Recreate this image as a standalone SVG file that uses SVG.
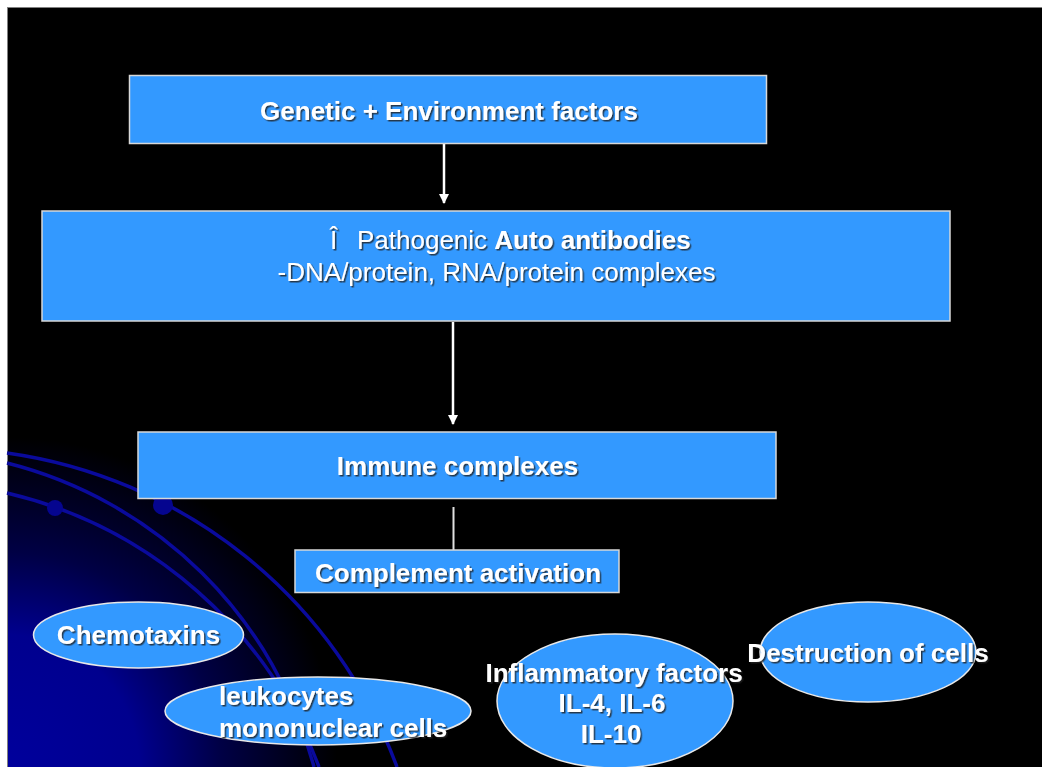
<svg xmlns="http://www.w3.org/2000/svg" width="1042" height="767" viewBox="0 0 1042 767">
  <defs>
    <radialGradient id="bgGlow" gradientUnits="userSpaceOnUse" cx="7" cy="767" r="330">
      <stop offset="0" stop-color="#00009c"/>
      <stop offset="0.4" stop-color="#00008e"/>
      <stop offset="0.65" stop-color="#000045"/>
      <stop offset="1" stop-color="#000000"/>
    </radialGradient>
    <filter id="shadow" x="-5%" y="-20%" width="110%" height="140%">
      <feDropShadow dx="1.5" dy="1.5" stdDeviation="0.6" flood-color="#222" flood-opacity="0.8"/>
    </filter>
    <marker id="arrow" viewBox="0 0 10 10" refX="9" refY="5" markerWidth="10" markerHeight="10" markerUnits="userSpaceOnUse" orient="auto">
      <path d="M0,0 L10,5 L0,10 Z" fill="#ffffff"/>
    </marker>
  </defs>
  <style>
    .box { fill: #3399ff; stroke: #d8d8d8; stroke-width: 1.5; }
    .oval { fill: #3399ff; stroke: #e8e8e8; stroke-width: 1.5; }
    .t { font-family: "Liberation Sans", Arial, sans-serif; font-size: 26px; fill: #ffffff; filter: url(#shadow); }
    .b { font-weight: bold; }
    .arc { fill: none; stroke: #0a0a9c; stroke-width: 3.5; }
    .dot { fill: #05058f; }
    .conn { stroke: #ffffff; stroke-width: 2.5; fill: none; }
  </style>

  <!-- background -->
  <rect x="0" y="0" width="1042" height="767" fill="#ffffff"/>
  <rect x="7.5" y="7.5" width="1040" height="765" fill="#000000" stroke="#808080" stroke-width="1"/>
  <rect x="8" y="8" width="1034" height="759" fill="url(#bgGlow)"/>

  <!-- decorative arcs -->
  <g id="decor">
    <path class="arc" d="M7,453 A488,488 0 0 1 397,767"/>
    <path class="arc" d="M7,463 A425,425 0 0 1 314,767"/>
    <path class="arc" d="M7,493 A442,442 0 0 1 319,767"/>
    <circle class="dot" cx="55" cy="508" r="8"/>
    <circle class="dot" cx="163" cy="505" r="10"/>
  </g>

  <!-- connectors -->
  <g id="connectors">
    <line class="conn" x1="444" y1="144" x2="444" y2="203" marker-end="url(#arrow)"/>
    <line class="conn" x1="453" y1="322" x2="453" y2="424" marker-end="url(#arrow)"/>
    <line x1="453.5" y1="507" x2="453.5" y2="550" stroke="#e0e0e0" stroke-width="2"/>
  </g>

  <g id="node-genetic">
    <rect class="box" x="129.5" y="75.5" width="637" height="68"/>
    <text class="t b" x="449" y="120" text-anchor="middle">Genetic + Environment factors</text>
  </g>

  <g id="node-autoantibodies">
    <rect class="box" x="42" y="211" width="908" height="110"/>
    <text class="t" y="249"><tspan x="330">Î</tspan><tspan x="357">Pathogenic </tspan><tspan class="b">Auto antibodies</tspan></text>
    <text class="t" x="496.5" y="281" text-anchor="middle">-DNA/protein, RNA/protein complexes</text>
  </g>

  <g id="node-immune">
    <rect class="box" x="138" y="432" width="638" height="66.5"/>
    <text class="t b" x="457.5" y="475" text-anchor="middle">Immune complexes</text>
  </g>

  <g id="node-complement">
    <rect class="box" x="295" y="550" width="324" height="42.5"/>
    <text class="t b" x="458" y="582" text-anchor="middle">Complement activation</text>
  </g>

  <g id="node-chemotaxins">
    <ellipse class="oval" cx="138.5" cy="635" rx="105" ry="33"/>
    <text class="t b" x="138.5" y="644" text-anchor="middle">Chemotaxins</text>
  </g>

  <g id="node-leukocytes">
    <ellipse class="oval" cx="318" cy="711" rx="153" ry="34"/>
    <text class="t b" x="219" y="705">leukocytes</text>
    <text class="t b" x="219" y="737">mononuclear cells</text>
  </g>

  <g id="node-inflammatory">
    <ellipse class="oval" cx="615" cy="701" rx="118" ry="67"/>
    <text class="t b" x="614" y="682" text-anchor="middle">Inflammatory factors</text>
    <text class="t b" x="612" y="712" text-anchor="middle">IL-4, IL-6</text>
    <text class="t b" x="611" y="743" text-anchor="middle">IL-10</text>
  </g>

  <g id="node-destruction">
    <ellipse class="oval" cx="868" cy="652" rx="108" ry="50"/>
    <text class="t b" x="868" y="662" text-anchor="middle">Destruction of cells</text>
  </g>
</svg>
